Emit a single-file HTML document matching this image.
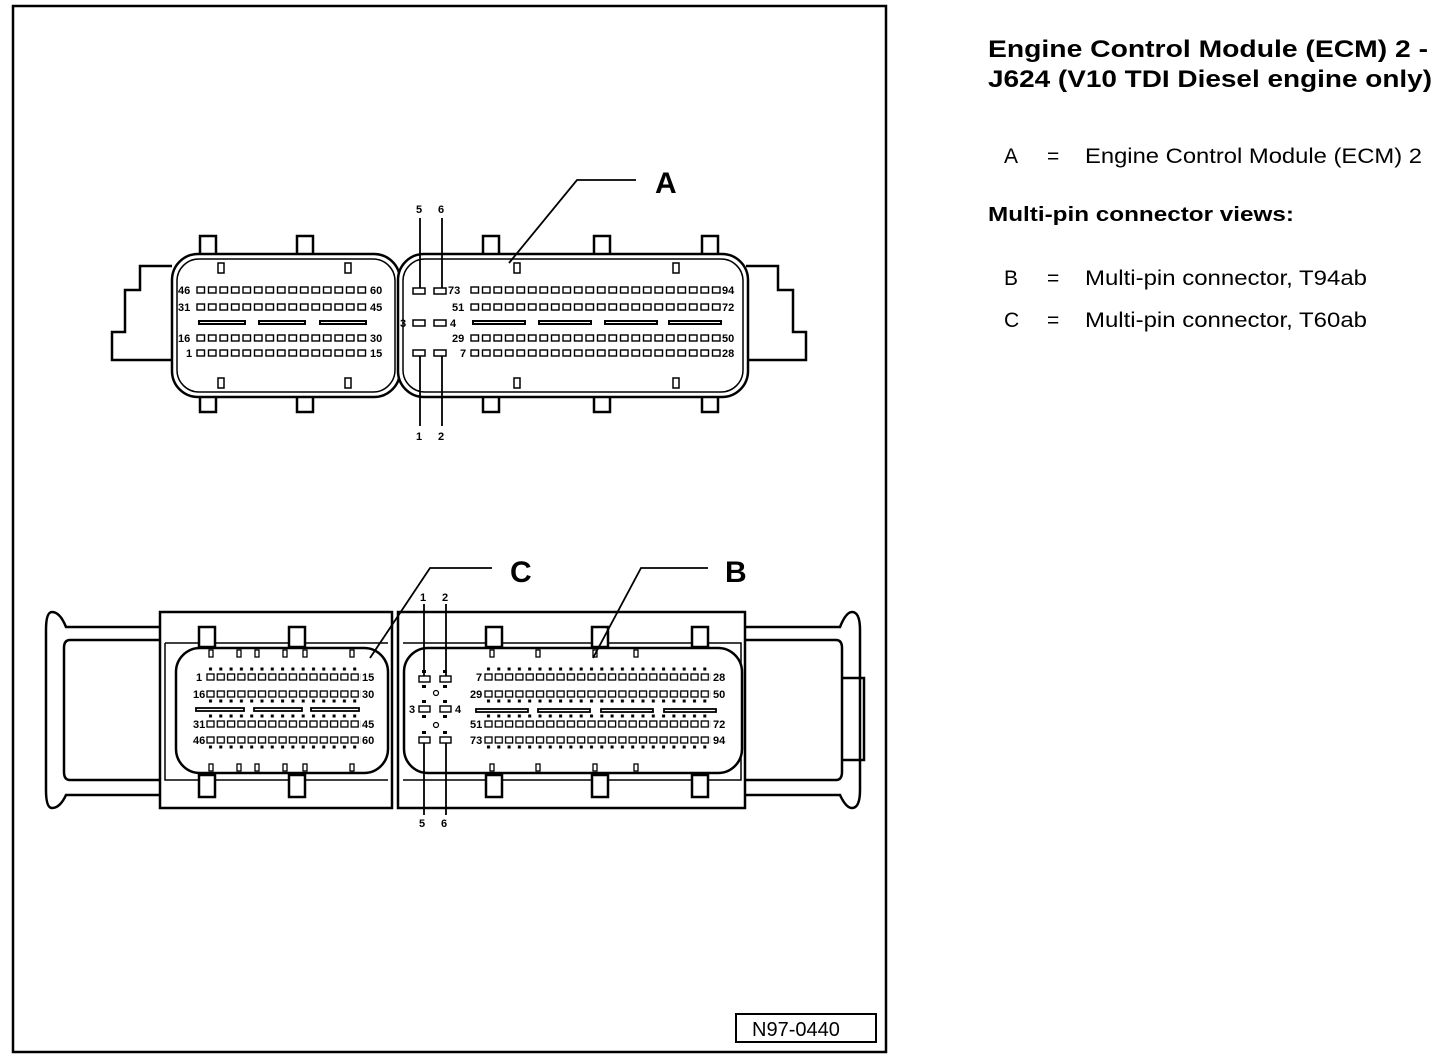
<!DOCTYPE html>
<html><head><meta charset="utf-8"><style>
html,body{margin:0;padding:0;background:#fff;}
svg{display:block;}
text{font-family:"Liberation Sans",sans-serif;fill:#000;}
</style></head><body>
<svg width="1456" height="1064" viewBox="0 0 1456 1064" xmlns="http://www.w3.org/2000/svg">
<defs>
<pattern id="p1" x="0" y="0" width="11.5" height="9" patternUnits="userSpaceOnUse">
<rect x="1" y="1" width="7.5" height="6" fill="#fff" stroke="#000" stroke-width="1.4"/></pattern>
<pattern id="p2" x="0" y="0" width="10.3" height="9" patternUnits="userSpaceOnUse">
<rect x="1" y="1" width="7" height="6" fill="#fff" stroke="#000" stroke-width="1.3"/></pattern>
<pattern id="d2" x="0" y="0" width="10.3" height="4" patternUnits="userSpaceOnUse">
<rect x="3" y="0.5" width="3" height="3" fill="#000"/></pattern>
</defs>
<rect x="13" y="6" width="873" height="1046" fill="none" stroke="#000" stroke-width="2.5"/>
<g fill="none" stroke="#000" stroke-width="2.5">
<path d="M172 266 H140 V290 H125 V332 H112 V360 H172"/>
<path d="M746 266 H778 V290 H793 V332 H806 V360 H746"/>
<g fill="#fff">
<rect x="200" y="236" width="16" height="24"/><rect x="297" y="236" width="16" height="24"/><rect x="483" y="236" width="16" height="24"/><rect x="594" y="236" width="16" height="24"/><rect x="702" y="236" width="16" height="24"/>
<rect x="200" y="390" width="16" height="22"/><rect x="297" y="390" width="16" height="22"/><rect x="483" y="390" width="16" height="22"/><rect x="594" y="390" width="16" height="22"/><rect x="702" y="390" width="16" height="22"/>
<rect x="172" y="254" width="228" height="143" rx="26"/>
<rect x="398" y="254" width="350" height="143" rx="26"/>
</g>
<rect x="177" y="259" width="218" height="133" rx="22" stroke-width="1.5"/>
<rect x="403" y="259" width="340" height="133" rx="22" stroke-width="1.5"/>
</g>
<g fill="#fff" stroke="#000" stroke-width="1.5">
<rect x="218" y="263" width="6" height="10"/><rect x="345" y="263" width="6" height="10"/><rect x="514" y="263" width="6" height="10"/><rect x="673" y="263" width="6" height="10"/>
<rect x="218" y="378" width="6" height="10"/><rect x="345" y="378" width="6" height="10"/><rect x="514" y="378" width="6" height="10"/><rect x="673" y="378" width="6" height="10"/>
</g>
<g transform="translate(196,286)"><rect width="172" height="9" fill="url(#p1)"/></g>
<g transform="translate(196,303)"><rect width="172" height="9" fill="url(#p1)"/></g>
<g transform="translate(196,334)"><rect width="172" height="9" fill="url(#p1)"/></g>
<g transform="translate(196,349)"><rect width="172" height="9" fill="url(#p1)"/></g>
<g transform="translate(470,286)"><rect width="253" height="9" fill="url(#p1)"/></g>
<g transform="translate(470,303)"><rect width="253" height="9" fill="url(#p1)"/></g>
<g transform="translate(470,334)"><rect width="253" height="9" fill="url(#p1)"/></g>
<g transform="translate(470,349)"><rect width="253" height="9" fill="url(#p1)"/></g>
<g fill="none" stroke="#000" stroke-width="2">
<rect x="199" y="321" width="46" height="3"/><rect x="259" y="321" width="46" height="3"/><rect x="320" y="321" width="46" height="3"/>
<rect x="473" y="321" width="52" height="3"/><rect x="539" y="321" width="52" height="3"/><rect x="605" y="321" width="52" height="3"/><rect x="669" y="321" width="52" height="3"/>
<rect x="413" y="288" width="12" height="6" stroke-width="1.5"/><rect x="434" y="288" width="12" height="6" stroke-width="1.5"/>
<rect x="413" y="320" width="12" height="6" stroke-width="1.5"/><rect x="434" y="320" width="12" height="6" stroke-width="1.5"/>
<rect x="413" y="350" width="12" height="6" stroke-width="1.5"/><rect x="434" y="350" width="12" height="6" stroke-width="1.5"/>
</g>
<!-- bottom connector -->
<g fill="none" stroke="#000" stroke-width="2.5">
<path d="M160 627 H66 Q60 612 52 612 Q46 612 46 630 V790 Q46 808 52 808 Q60 808 66 795 H160"/>
<path d="M160 640 H70 Q64 640 64 648 V772 Q64 780 70 780 H160"/>
<path d="M745 627 H840 Q846 612 852 612 Q860 612 860 630 V790 Q860 808 852 808 Q846 808 840 795 H745"/>
<path d="M745 640 H836 Q842 640 842 648 V772 Q842 780 836 780 H745"/>
<path d="M842 678 H864 V760 H842"/>
<path d="M160 612 H392 V808 H160 Z" fill="#fff"/>
<path d="M398 612 H745 V808 H398 Z" fill="#fff"/>
<path d="M165 643 H388 M165 643 V780 H388" stroke-width="1.5"/>
<path d="M403 643 H741 V780 H403" stroke-width="1.5"/>
<g fill="#fff">
<rect x="199" y="627" width="16" height="20"/><rect x="289" y="627" width="16" height="20"/><rect x="486" y="627" width="16" height="20"/><rect x="592" y="627" width="16" height="20"/><rect x="692" y="627" width="16" height="20"/>
<rect x="199" y="775" width="16" height="22"/><rect x="289" y="775" width="16" height="22"/><rect x="486" y="775" width="16" height="22"/><rect x="592" y="775" width="16" height="22"/><rect x="692" y="775" width="16" height="22"/>
<rect x="176" y="648" width="212" height="125" rx="24"/>
<rect x="404" y="648" width="338" height="125" rx="24"/>
</g>
</g>
<g fill="#fff" stroke="#000" stroke-width="1.3">
<rect x="209" y="650" width="4" height="7"/><rect x="237" y="650" width="4" height="7"/><rect x="255" y="650" width="4" height="7"/><rect x="283" y="650" width="4" height="7"/>
<rect x="209" y="764" width="4" height="7"/><rect x="237" y="764" width="4" height="7"/><rect x="255" y="764" width="4" height="7"/><rect x="283" y="764" width="4" height="7"/>
<rect x="303" y="650" width="4" height="7"/><rect x="350" y="650" width="4" height="7"/><rect x="303" y="764" width="4" height="7"/><rect x="350" y="764" width="4" height="7"/>
<rect x="490" y="650" width="4" height="7"/><rect x="536" y="650" width="4" height="7"/><rect x="593" y="650" width="4" height="7"/><rect x="634" y="650" width="4" height="7"/>
<rect x="490" y="764" width="4" height="7"/><rect x="536" y="764" width="4" height="7"/><rect x="593" y="764" width="4" height="7"/><rect x="634" y="764" width="4" height="7"/>
</g>
<g transform="translate(206,667)"><rect width="155" height="4" fill="url(#d2)"/></g>
<g transform="translate(206,673)"><rect width="155" height="9" fill="url(#p2)"/></g>
<g transform="translate(206,690)"><rect width="155" height="9" fill="url(#p2)"/></g>
<g transform="translate(206,699)"><rect width="155" height="4" fill="url(#d2)"/></g>
<g transform="translate(206,714)"><rect width="155" height="4" fill="url(#d2)"/></g>
<g transform="translate(206,720)"><rect width="155" height="9" fill="url(#p2)"/></g>
<g transform="translate(206,736)"><rect width="155" height="9" fill="url(#p2)"/></g>
<g transform="translate(206,745)"><rect width="155" height="4" fill="url(#d2)"/></g>
<g transform="translate(484,667)"><rect width="227" height="4" fill="url(#d2)"/></g>
<g transform="translate(484,673)"><rect width="227" height="9" fill="url(#p2)"/></g>
<g transform="translate(484,690)"><rect width="227" height="9" fill="url(#p2)"/></g>
<g transform="translate(484,699)"><rect width="227" height="4" fill="url(#d2)"/></g>
<g transform="translate(484,714)"><rect width="227" height="4" fill="url(#d2)"/></g>
<g transform="translate(484,720)"><rect width="227" height="9" fill="url(#p2)"/></g>
<g transform="translate(484,736)"><rect width="227" height="9" fill="url(#p2)"/></g>
<g transform="translate(484,745)"><rect width="227" height="4" fill="url(#d2)"/></g>
<g fill="none" stroke="#000" stroke-width="1.8">
<rect x="196" y="708" width="48" height="3"/><rect x="254" y="708" width="48" height="3"/><rect x="311" y="708" width="48" height="3"/>
<rect x="476" y="709" width="52" height="3"/><rect x="538" y="709" width="52" height="3"/><rect x="601" y="709" width="52" height="3"/><rect x="664" y="709" width="52" height="3"/>
<rect x="419" y="676" width="11" height="6" stroke-width="1.4"/><rect x="440" y="676" width="11" height="6" stroke-width="1.4"/>
<rect x="419" y="706" width="11" height="6" stroke-width="1.4"/><rect x="440" y="706" width="11" height="6" stroke-width="1.4"/>
<rect x="419" y="737" width="11" height="6" stroke-width="1.4"/><rect x="440" y="737" width="11" height="6" stroke-width="1.4"/>
<circle cx="436" cy="693" r="2.5" stroke-width="1.2"/><circle cx="436" cy="725" r="2.5" stroke-width="1.2"/>
</g>
<g fill="#000">
<rect x="422" y="670" width="4" height="3"/><rect x="443" y="670" width="4" height="3"/>
<rect x="422" y="685" width="4" height="3"/><rect x="443" y="685" width="4" height="3"/>
<rect x="422" y="700" width="4" height="3"/><rect x="443" y="700" width="4" height="3"/>
<rect x="422" y="715" width="4" height="3"/><rect x="443" y="715" width="4" height="3"/>
<rect x="422" y="731" width="4" height="3"/><rect x="443" y="731" width="4" height="3"/>
</g>
<g stroke="#000" stroke-width="1.8" fill="none">
<line x1="420" y1="218" x2="420" y2="288"/><line x1="442" y1="218" x2="442" y2="288"/>
<line x1="420" y1="356" x2="420" y2="426"/><line x1="442" y1="356" x2="442" y2="426"/>
<polyline points="636,180 577,180 509,263"/>
<polyline points="492,568 430,568 370,658"/>
<polyline points="708,568 641,568 593,658"/>
<line x1="424" y1="604" x2="424" y2="676"/><line x1="446" y1="604" x2="446" y2="676"/>
<line x1="424" y1="743" x2="424" y2="815"/><line x1="446" y1="743" x2="446" y2="815"/>
</g>
<g font-size="11" font-weight="bold">
<text x="178" y="294">46</text><text x="370" y="294">60</text>
<text x="178" y="311">31</text><text x="370" y="311">45</text>
<text x="178" y="342">16</text><text x="370" y="342">30</text>
<text x="186" y="357">1</text><text x="370" y="357">15</text>
<text x="448" y="294">73</text><text x="722" y="294">94</text>
<text x="452" y="311">51</text><text x="722" y="311">72</text>
<text x="452" y="342">29</text><text x="722" y="342">50</text>
<text x="460" y="357">7</text><text x="722" y="357">28</text>
<text x="400" y="327">3</text><text x="450" y="327">4</text>
<text x="416" y="213">5</text><text x="438" y="213">6</text>
<text x="416" y="440">1</text><text x="438" y="440">2</text>
<text x="420" y="601">1</text><text x="442" y="601">2</text>
<text x="419" y="827">5</text><text x="441" y="827">6</text>
<text x="196" y="681">1</text><text x="362" y="681">15</text>
<text x="193" y="698">16</text><text x="362" y="698">30</text>
<text x="193" y="728">31</text><text x="362" y="728">45</text>
<text x="193" y="744">46</text><text x="362" y="744">60</text>
<text x="476" y="681">7</text><text x="713" y="681">28</text>
<text x="470" y="698">29</text><text x="713" y="698">50</text>
<text x="470" y="728">51</text><text x="713" y="728">72</text>
<text x="470" y="744">73</text><text x="713" y="744">94</text>
<text x="409" y="713">3</text><text x="455" y="713">4</text>
</g>
<g font-size="30" font-weight="bold">
<text x="655" y="193">A</text><text x="510" y="582">C</text><text x="725" y="582">B</text>
</g>
<rect x="736" y="1014" width="140" height="28" fill="none" stroke="#000" stroke-width="2"/>
<text x="752" y="1036" font-size="20">N97-0440</text>
<g>
<text x="988" y="57" font-size="24" font-weight="bold" textLength="440" lengthAdjust="spacingAndGlyphs">Engine Control Module (ECM) 2 -</text>
<text x="988" y="87" font-size="24" font-weight="bold" textLength="444" lengthAdjust="spacingAndGlyphs">J624 (V10 TDI Diesel engine only)</text>
<text x="1004" y="163" font-size="21">A</text><text x="1047" y="163" font-size="21">=</text>
<text x="1085" y="163" font-size="21" textLength="337" lengthAdjust="spacingAndGlyphs">Engine Control Module (ECM) 2</text>
<text x="988" y="221" font-size="20" font-weight="bold" textLength="306" lengthAdjust="spacingAndGlyphs">Multi-pin connector views:</text>
<text x="1004" y="285" font-size="21">B</text><text x="1047" y="285" font-size="21">=</text>
<text x="1085" y="285" font-size="21" textLength="282" lengthAdjust="spacingAndGlyphs">Multi-pin connector, T94ab</text>
<text x="1004" y="327" font-size="21">C</text><text x="1047" y="327" font-size="21">=</text>
<text x="1085" y="327" font-size="21" textLength="282" lengthAdjust="spacingAndGlyphs">Multi-pin connector, T60ab</text>
</g>
</svg>
</body></html>
